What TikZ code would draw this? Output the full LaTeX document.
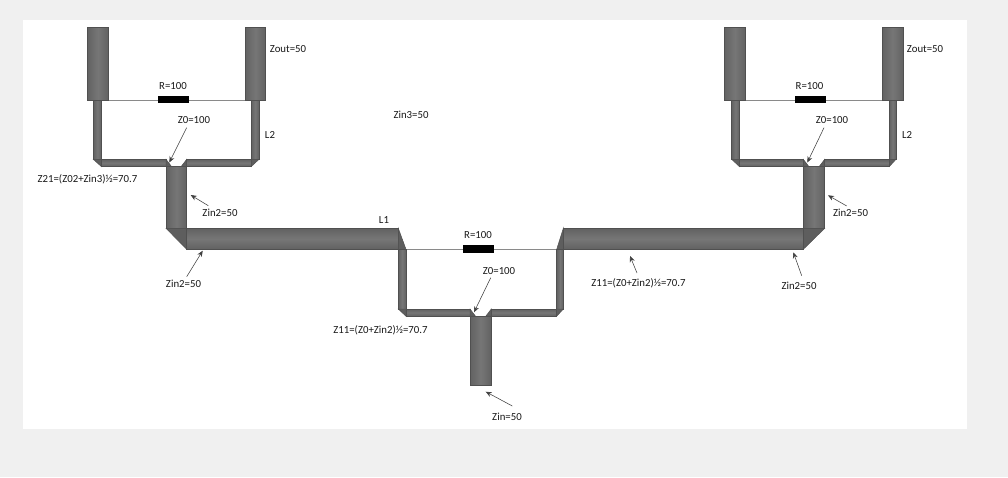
\documentclass[tikz,border=0pt]{standalone}
\usepackage{fontspec}
\setmainfont{Carlito}
\usetikzlibrary{arrows.meta}
\definecolor{pagegray}{HTML}{F0F0F0}
\definecolor{edgegray}{HTML}{505050}
\definecolor{darkgray}{HTML}{626262}
\definecolor{midgray}{HTML}{767676}
\definecolor{jointgray}{HTML}{5E5E5E}
\definecolor{wiregray}{HTML}{8A8A8A}
\definecolor{arrowgray}{HTML}{404040}
\tikzset{
  hline/.style={draw=edgegray,line width=0.5pt,top color=darkgray,bottom color=darkgray,middle color=midgray},
  vline/.style={draw=edgegray,line width=0.5pt,left color=darkgray,right color=darkgray,middle color=midgray},
  joint/.style={draw=edgegray,line width=0.5pt,fill=jointgray},
  wire/.style={draw=wiregray,line width=0.8pt},
  resistor/.style={fill=black,draw=none},
  pointer/.style={draw=arrowgray,line width=0.55pt,-{Stealth[length=6pt,width=5pt]}},
  lbl/.style={font=\fontsize{10.8}{12}\selectfont,text=black!90,inner sep=0pt}
}
% #1 outer left, #2 inner left, #3 stem left, #4 stem right, #5 inner right, #6 outer right, #7 top y
\newcommand{\splitter}[7]{%
  \path[hline] (#2,#7) rectangle (#3,#7+7.2);
  \path[hline] (#4,#7) rectangle (#5,#7+7.2);
  \path[joint] (#1,#7) -- (#2,#7) -- (#2,#7+7.2) -- cycle;
  \path[joint] (#6,#7) -- (#5,#7) -- (#5,#7+7.2) -- cycle;
  \path[joint] (#3,#7) -- (#3+5.5,#7+7.2) -- (#3,#7+7.2) -- cycle;
  \path[joint] (#4,#7) -- (#4-5.5,#7+7.2) -- (#4,#7+7.2) -- cycle;
}
\begin{document}
\begin{tikzpicture}[x=1pt,y=-1pt]
\useasboundingbox (0,0) rectangle (1008,477);
\fill[pagegray] (0,0) rectangle (1008,477);
\fill[white] (23,20) rectangle (967,429);

% wires and resistors
\coordinate (wLa) at (108,100); \coordinate (wLb) at (245,100);
\coordinate (wRa) at (745,100); \coordinate (wRb) at (882,100);
\coordinate (wCa) at (406,249.3); \coordinate (wCb) at (557,249.3);
\draw[wire] (wLa) -- (wLb);
\draw[wire] (wRa) -- (wRb);
\draw[wire] (wCa) -- (wCb);
\fill[resistor] (158.3,95.8) rectangle (189,103);
\fill[resistor] (795.3,95.8) rectangle (826.3,103);
\fill[resistor] (463,244.8) rectangle (494,253);

% left branch
\path[vline] (93.3,99) rectangle (101.3,159.3);
\path[vline] (251.3,99) rectangle (259,159.3);
\path[vline] (87.3,27.3) rectangle (108.3,100);
\path[vline] (245,27.3) rectangle (265.7,100);
\splitter{93.3}{101.3}{166}{186.7}{251.3}{259}{159.3}
\path[vline] (166,166.5) rectangle (186.7,228.3);
\path[joint] (166,228.3) -- (186.7,228.3) -- (186.7,249.3) -- cycle;

% right branch
\path[vline] (731.7,99) rectangle (739.3,159.3);
\path[vline] (889.3,99) rectangle (896,159.3);
\path[vline] (724,27.3) rectangle (745.7,100);
\path[vline] (882,27.3) rectangle (903.3,100);
\splitter{731.7}{739.3}{803.3}{824.7}{889.3}{896}{159.3}
\path[vline] (803.3,166.5) rectangle (824.7,228.3);
\path[joint] (803.3,228.3) -- (824.7,228.3) -- (803.3,249.3) -- cycle;

% long horizontal lines
\path[hline] (186.7,228.3) rectangle (398.3,249.3);
\path[hline] (563.3,228.3) rectangle (803.3,249.3);
\path[joint] (398.3,228.3) -- (406,249.3) -- (398.3,249.3) -- cycle;
\path[joint] (563.3,228.3) -- (556.7,249.3) -- (563.3,249.3) -- cycle;

% centre branch
\path[vline] (398.3,249.3) rectangle (406,309);
\path[vline] (556.7,249.3) rectangle (563.3,309);
\splitter{398.3}{406}{470}{491.3}{556.7}{563.3}{309}
\path[vline] (470,316) rectangle (491.3,385);

% labels
\node[lbl] (rL) at (173,86.5) {R=100};
\node[lbl] (zoL) at (194,120.5) {Z0=100};
\node[lbl] (l2L) at (270,134.5) {L2};
\node[lbl] (zoutL) at (288,49) {Zout=50};
\node[lbl] (z21) at (87.5,179) {Z21=(Z02+Zin3)½=70.7};
\node[lbl] (zin2a) at (220,213) {Zin2=50};
\node[lbl] (zin2b) at (183.5,284) {Zin2=50};
\node[lbl] (zin3) at (411,115) {Zin3=50};
\node[lbl] (l1) at (384,220.5) {L1};
\node[lbl] (rC) at (478,235) {R=100};
\node[lbl] (zoC) at (499,271) {Z0=100};
\node[lbl] (z11a) at (380.5,330.5) {Z11=(Z0+Zin2)½=70.7};
\node[lbl] (zin) at (507,416.5) {Zin=50};
\node[lbl] (z11b) at (638.5,283.5) {Z11=(Z0+Zin2)½=70.7};
\node[lbl] (rR) at (809.5,86.5) {R=100};
\node[lbl] (zoR) at (832,120.5) {Z0=100};
\node[lbl] (l2R) at (907,134.5) {L2};
\node[lbl] (zoutR) at (925,49) {Zout=50};
\node[lbl] (zin2c) at (850.5,213) {Zin2=50};
\node[lbl] (zin2d) at (799,285.5) {Zin2=50};

% pointers
\coordinate (a1s) at (186.7,127.7); \coordinate (a1e) at (169.3,162.5);
\coordinate (a2s) at (208.3,205.7); \coordinate (a2e) at (190.7,195);
\coordinate (a3s) at (186.7,276.7); \coordinate (a3e) at (202.7,250.7);
\coordinate (a4s) at (490.7,277.7); \coordinate (a4e) at (474,312.3);
\coordinate (a5s) at (512.3,406);   \coordinate (a5e) at (485.7,391.7);
\coordinate (a6s) at (637,273);     \coordinate (a6e) at (630,256);
\coordinate (a7s) at (824,127.7);   \coordinate (a7e) at (807.3,162.5);
\coordinate (a8s) at (846.7,206);   \coordinate (a8e) at (828,195.3);
\coordinate (a9s) at (801.7,275.7); \coordinate (a9e) at (793.3,252.3);
\foreach \n in {1,...,9} \draw[pointer] (a\n s) -- (a\n e);
\end{tikzpicture}
\end{document}
